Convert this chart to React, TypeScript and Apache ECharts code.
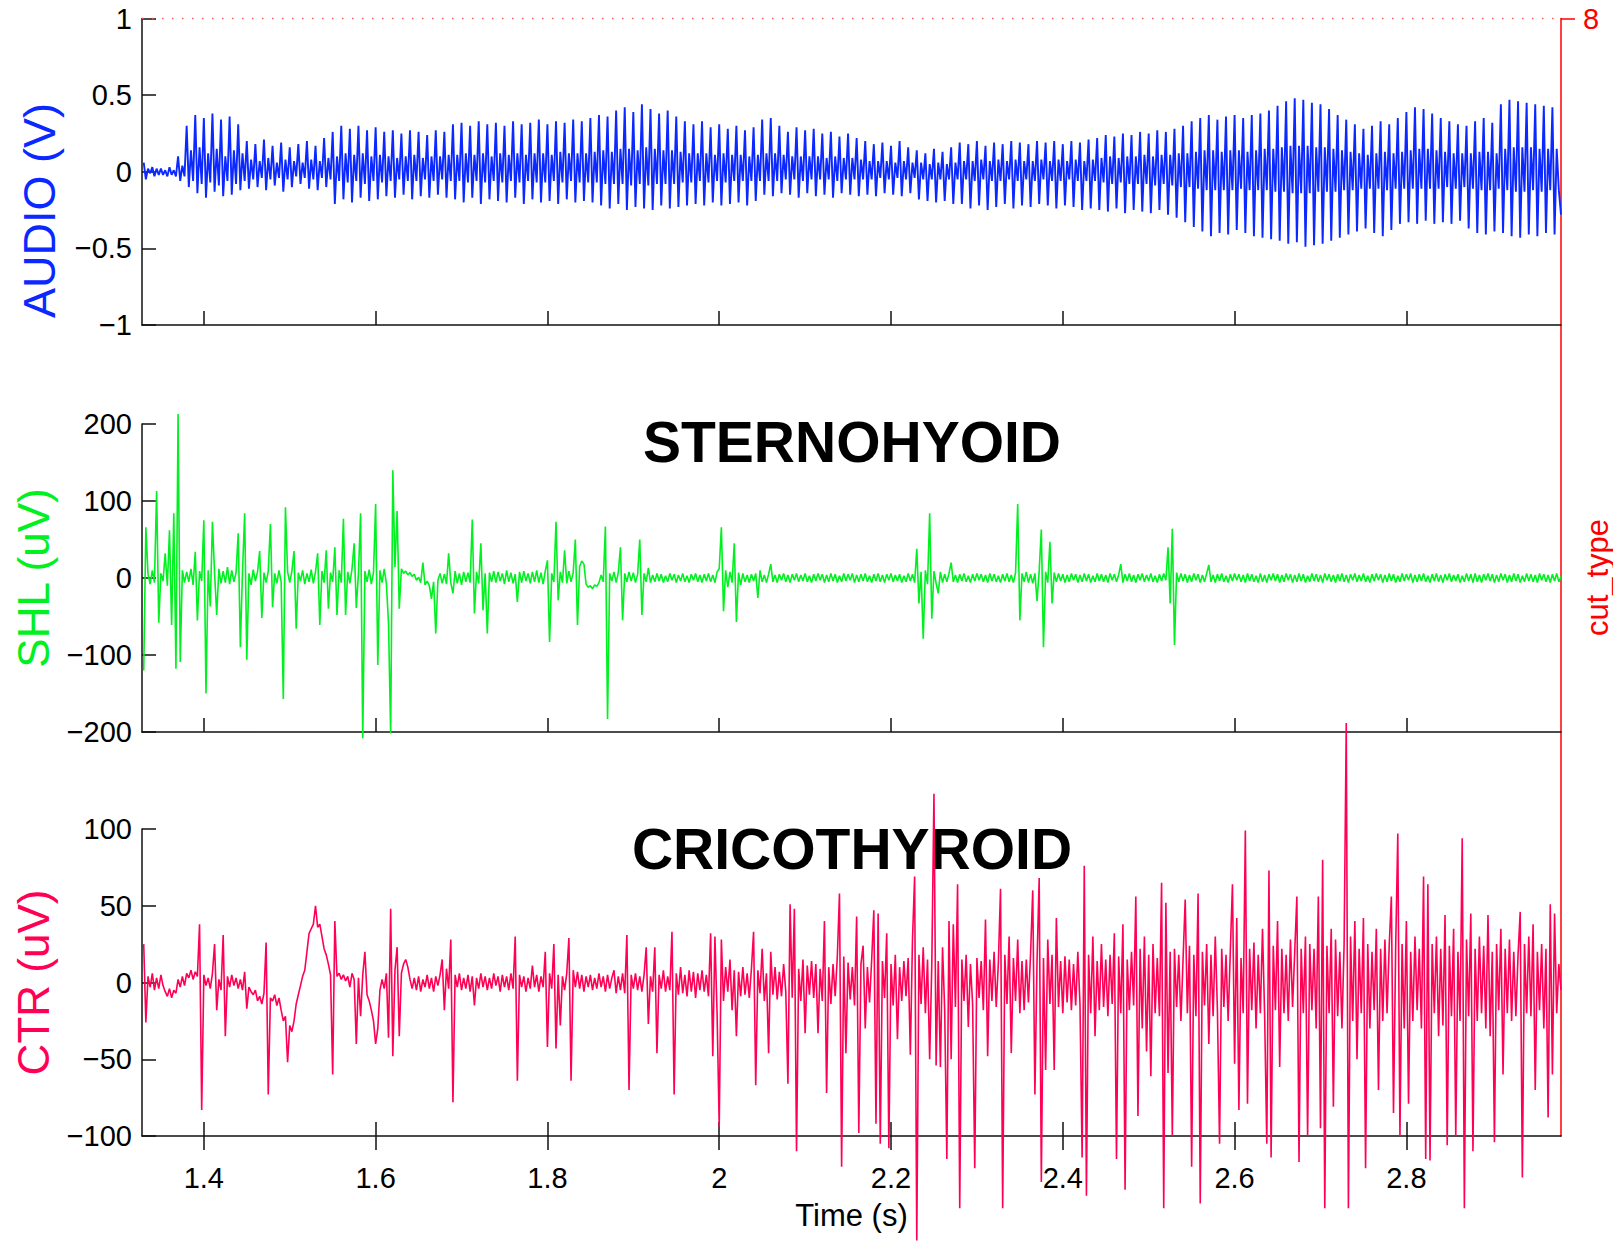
import React, { useEffect, useRef } from "react";
import * as echarts from "echarts";

// ---------- sampling grid (time axis, seconds) ----------
const T0 = 1.33;
const DT = 0.0025;
const X_MIN = 1.328;
const X_MAX = 2.98;
const timeTicks = [1.4, 1.6, 1.8, 2.0, 2.2, 2.4, 2.6, 2.8];

// ---------- AUDIO (V), one group of four per pitch cycle ----------
const audioV = [
  .06,-.05,.02,-.01, .03,-.03,.02,-.02, .02,-.02,.01,-.03, .03,-.02,.01,-.03,
  .10,-.06,.04,-.03, .30,-.10,.14,-.06, .37,-.14,.16,-.08, .35,-.17,.12,-.07,
  .38,-.13,.15,-.09, .34,-.16,.10,-.06, .36,-.15,.14,-.08, .31,-.12,.12,-.06,
  .20,-.11,.08,-.05, .18,-.10,.07,-.04, .21,-.12,.09,-.05, .17,-.09,.06,-.04,
  .19,-.13,.08,-.05, .16,-.10,.07,-.03, .18,-.08,.06,-.04, .20,-.11,.08,-.05,
  .17,-.12,.07,-.04, .22,-.10,.09,-.05, .26,-.21,.10,-.06, .30,-.18,.12,-.07,
  .28,-.20,.11,-.06, .30,-.17,.12,-.08, .27,-.19,.10,-.06, .29,-.18,.11,-.07,
  .26,-.16,.10,-.06, .27,-.17,.09,-.05, .25,-.15,.10,-.06, .27,-.18,.11,-.06,
  .26,-.16,.09,-.05, .24,-.17,.10,-.06, .27,-.15,.10,-.05, .26,-.17,.11,-.06,
  .31,-.18,.11,-.06, .32,-.20,.12,-.07, .30,-.17,.11,-.06, .33,-.21,.12,-.07,
  .31,-.18,.10,-.06, .32,-.19,.12,-.07, .30,-.20,.11,-.06, .33,-.17,.12,-.07,
  .31,-.21,.11,-.06, .32,-.18,.12,-.07, .34,-.20,.12,-.07, .31,-.19,.11,-.06,
  .33,-.21,.13,-.07, .32,-.18,.12,-.06, .34,-.20,.12,-.07, .33,-.19,.12,-.07,
  .35,-.20,.13,-.07, .37,-.22,.14,-.08, .36,-.24,.13,-.08, .40,-.21,.15,-.08,
  .42,-.25,.15,-.09, .39,-.23,.14,-.08, .44,-.24,.16,-.09, .41,-.25,.15,-.08,
  .38,-.22,.14,-.08, .40,-.24,.14,-.08, .36,-.23,.13,-.07, .33,-.22,.12,-.07,
  .31,-.21,.12,-.06, .33,-.22,.12,-.07, .29,-.20,.11,-.06, .31,-.22,.12,-.07,
  .28,-.21,.11,-.06, .30,-.20,.11,-.06, .27,-.22,.10,-.06, .29,-.19,.11,-.06,
  .34,-.15,.12,-.06, .35,-.16,.12,-.06, .30,-.14,.11,-.05, .26,-.15,.10,-.05,
  .29,-.17,.10,-.06, .27,-.14,.10,-.05, .28,-.16,.10,-.05, .25,-.15,.09,-.05,
  .26,-.17,.10,-.06, .23,-.14,.09,-.05, .25,-.15,.09,-.05, .22,-.16,.08,-.05,
  .20,-.15,.07,-.05, .18,-.16,.07,-.04, .19,-.14,.07,-.05, .17,-.15,.06,-.04,
  .20,-.16,.07,-.05, .16,-.14,.06,-.04, .14,-.18,.06,-.05, .12,-.19,.05,-.05,
  .15,-.20,.06,-.05, .13,-.19,.05,-.05, .16,-.21,.06,-.05, .19,-.21,.07,-.05,
  .18,-.24,.07,-.06, .20,-.22,.08,-.05, .17,-.25,.07,-.06, .19,-.23,.08,-.06,
  .18,-.21,.07,-.05, .20,-.24,.08,-.06, .19,-.22,.07,-.05, .18,-.23,.07,-.06,
  .20,-.21,.08,-.05, .19,-.22,.07,-.06, .20,-.24,.08,-.06, .18,-.22,.07,-.05,
  .20,-.23,.08,-.06, .19,-.25,.07,-.06, .21,-.24,.08,-.06, .22,-.25,.09,-.07,
  .24,-.26,.10,-.08, .23,-.24,.09,-.07, .25,-.27,.10,-.08, .24,-.25,.10,-.08,
  .26,-.26,.11,-.08, .25,-.27,.10,-.09, .27,-.25,.11,-.08, .26,-.28,.11,-.09,
  .28,-.30,.12,-.10, .30,-.33,.12,-.10, .33,-.36,.13,-.11, .35,-.39,.14,-.12,
  .37,-.42,.14,-.12, .34,-.40,.13,-.12, .36,-.41,.14,-.12, .37,-.38,.14,-.11,
  .35,-.40,.13,-.12, .37,-.42,.14,-.12, .38,-.43,.15,-.12, .40,-.44,.15,-.13,
  .43,-.45,.16,-.13, .46,-.47,.17,-.14, .48,-.46,.17,-.14, .47,-.49,.17,-.14,
  .45,-.48,.16,-.13, .44,-.47,.16,-.13, .41,-.45,.15,-.13, .37,-.43,.14,-.12,
  .34,-.41,.13,-.12, .31,-.39,.12,-.11, .28,-.37,.11,-.11, .30,-.40,.12,-.11,
  .33,-.42,.13,-.12, .31,-.38,.12,-.11, .35,-.34,.13,-.11, .39,-.33,.14,-.11,
  .42,-.34,.15,-.11, .41,-.32,.15,-.11, .38,-.34,.14,-.11, .35,-.33,.13,-.10,
  .33,-.34,.12,-.11, .31,-.32,.12,-.10, .30,-.37,.12,-.11, .33,-.40,.13,-.12,
  .35,-.41,.13,-.12, .32,-.39,.12,-.11, .44,-.40,.15,-.12, .47,-.42,.16,-.13,
  .46,-.43,.16,-.13, .45,-.41,.16,-.12, .44,-.42,.15,-.13, .43,-.40,.15,-.12,
  .42,-.41,.15,-.12, -.28,
];

// ---------- SHL (uV), 20 samples per row ----------
const shlUV = [
  -120,66,5,-8,10,-6,113,-58,6,-4,32,-10,62,-61,84,-118,213,-109,10,-6,
  8,-5,12,-9,34,-55,9,-4,75,-150,10,-37,73,6,-48,12,-7,9,-6,14,
  -8,10,-5,7,58,-90,8,84,-106,6,-9,11,-4,8,35,-52,7,-6,9,70,
  -38,6,-7,10,-5,-157,92,8,-6,9,35,-66,7,-4,10,-8,6,-5,11,-7,
  8,32,-61,9,-6,36,-40,7,-5,40,-48,10,-6,77,-48,8,-7,12,45,-39,
  6,84,-208,9,-5,11,-8,7,96,-113,10,-6,12,-7,-59,-202,140,14,87,-40,
  12,6,9,4,7,2,5,-3,1,-6,20,-9,-4,-10,-27,-5,-72,-3,6,-7,
  5,-8,32,-6,-20,9,-7,6,-9,8,-5,7,-6,76,-46,8,-7,45,-42,6,
  -72,7,-5,9,-6,8,-4,6,-8,10,-5,7,-7,5,-31,8,-6,9,-4,6,
  -7,8,-5,10,-6,7,-8,9,23,-83,6,-5,73,-29,8,-6,36,-7,9,-5,
  7,50,-61,15,22,18,-8,-12,-10,-14,-9,-11,-6,4,-5,67,-183,6,-4,8,
  -6,7,40,-55,6,-5,8,-4,7,-6,5,50,-48,6,-5,13,-6,4,-5,6,
  -4,5,-6,3,-5,6,-3,5,-6,4,-4,6,-5,3,-6,5,-3,6,-5,4,
  -6,5,-4,6,-5,4,-6,8,12,66,-43,10,-12,8,-6,45,-57,7,-9,6,
  -5,4,-6,5,-4,6,-26,10,-5,4,-6,5,18,-5,4,-6,5,-3,6,-5,
  4,-6,5,-3,6,-5,4,-4,6,-5,3,-6,5,-4,6,-3,5,-6,4,-5,
  6,-4,5,-6,3,-5,6,-4,5,-3,6,-6,4,-5,5,-4,6,-5,3,-6,
  5,-4,6,-5,4,-6,5,-3,6,-5,4,-4,5,-6,3,-5,6,-4,5,-6,
  38,-33,8,-79,10,-8,84,-53,9,-7,-20,8,-6,5,-5,6,20,-5,4,-6,
  5,-4,6,-5,3,-6,5,-4,6,-3,5,-5,4,-6,6,-4,5,-5,3,-6,
  5,-4,6,-5,4,-6,7,96,-55,6,-5,8,-6,5,-7,6,-30,9,63,-90,
  8,-6,47,-33,7,-5,6,-4,5,-6,4,-5,6,-3,5,-6,4,-5,6,-4,
  5,-6,3,-5,6,-4,5,-5,4,-6,6,-3,5,-5,4,18,-6,5,-4,6,
  -5,4,-6,5,-3,6,-5,4,-4,6,-5,3,-6,5,-4,6,-3,40,-33,64,
  -87,7,-5,6,-4,5,-6,4,-5,6,-3,5,-6,4,-5,6,17,-5,4,-6,
  5,-4,6,-5,3,-6,5,-4,6,-3,5,-5,4,-6,6,-4,5,-5,3,-6,
  6,-5,4,-6,5,-3,6,-4,5,-6,4,-5,6,-3,5,-6,4,-5,6,-4,
  5,-6,3,-5,6,-4,5,-5,4,-6,6,-3,5,-5,4,-6,5,-4,6,-5,
  4,-6,5,-3,6,-5,4,-4,6,-5,3,-6,5,-4,6,-3,5,-6,4,-5,
  6,-4,5,-6,3,-5,6,-4,5,-3,6,-6,4,-5,5,-4,6,-5,3,-6,
  5,-4,6,-5,4,-6,5,-3,6,-5,4,-4,5,-6,3,-5,6,-4,5,-6,
  6,-5,4,-6,5,-3,6,-4,5,-6,4,-5,6,-3,5,-6,4,-5,6,-4,
  5,-6,3,-5,6,-4,5,-5,4,-6,6,-3,5,-5,4,-6,5,-4,6,-5,
  2,
];

// ---------- CTR (uV), 20 samples per row ----------
const ctrUV = [
  25,-26,4,-3,6,-5,3,-4,5,-2,-6,-9,-4,-10,-5,-7,2,-3,4,-2,
  6,3,8,2,7,4,38,-83,5,-2,3,-4,6,25,-18,2,-5,31,-35,4,
  -3,5,-2,3,-4,2,-5,7,-17,-3,-6,-8,-5,-12,-9,-14,-7,26,-73,-10,
  -12,-8,-15,-10,-18,-25,-22,-52,-28,-32,-25,-14,-8,-2,4,8,20,32,35,38,
  50,36,38,30,22,18,12,5,-60,40,4,6,2,5,1,4,-3,6,2,-40,
  3,-22,5,20,-8,-12,-18,-25,-40,-30,-5,2,-4,6,-36,48,-48,8,23,-35,
  6,12,15,10,2,-4,3,-5,4,-6,2,-3,5,-4,3,-6,4,-2,5,15,
  -18,9,-4,28,-78,5,-3,6,-5,3,-4,5,-6,4,-15,3,-4,6,-3,4,
  -5,3,-4,6,-2,4,-6,5,-3,4,-5,6,-4,30,-64,5,-3,4,-6,3,
  -4,11,-3,5,-6,4,-3,20,-42,6,-4,25,-43,5,-28,4,-5,6,29,-64,
  8,-3,7,-4,5,-6,4,-3,5,-5,3,-4,6,-3,4,-6,5,-4,3,8,
  -7,4,-5,6,-7,31,-70,5,-4,6,-5,4,-6,5,23,-27,4,-6,23,-46,
  5,-4,8,-6,4,-5,33,-73,6,-8,10,-7,5,-9,8,-6,7,-10,6,-5,
  8,-6,5,-9,32,-48,30,-20,-94,28,-12,10,-6,15,-18,8,-35,7,-9,10,
  -8,6,-10,9,33,-67,8,-7,22,-12,6,-46,20,-8,10,-11,7,-9,12,-6,
  -66,51,-10,48,-110,9,-12,15,-33,11,-8,14,-10,12,-33,9,-12,40,-72,10,
  -14,12,-9,17,58,-120,17,-46,13,-11,10,-15,43,-98,12,24,-30,10,-13,15,
  47,-92,45,-105,14,-10,32,-108,12,-15,18,-37,10,-12,14,-9,16,-47,28,69,
  -168,18,-14,23,-20,15,-50,12,123,-54,14,-55,23,-18,-115,40,-50,38,-16,64,
  -147,15,-12,18,-29,12,-14,-121,16,-10,14,-18,41,-48,15,-12,20,-16,13,61,
  -147,18,-14,30,-46,16,-12,28,-20,14,-18,15,-13,19,60,-73,14,68,-130,16,
  -57,28,-14,18,-57,42,-16,14,-20,17,-13,15,-18,12,-15,20,-14,-114,76,-139,
  18,-20,30,-35,14,-18,25,-16,15,-22,18,-14,32,-115,17,-20,38,-135,15,-18,
  20,-15,56,-87,22,-30,30,-45,18,-61,25,-20,16,-22,65,-147,52,-59,20,-100,
  22,-16,18,-25,15,54,-20,24,-120,18,-22,58,-144,20,-15,25,-40,18,-22,30,
  -18,-105,22,-16,18,-25,20,64,-53,42,-83,16,-20,99,-79,22,-18,26,-30,18,
  -20,35,-22,-105,73,-114,24,-18,40,-55,22,-20,18,-25,28,-16,20,56,-117,22,
  -20,30,-100,25,-18,22,-30,56,-95,80,-147,24,-20,35,-81,28,-22,20,-30,25,
  169,-147,30,-25,40,-50,22,-20,42,-121,25,-30,20,-18,35,-70,22,-25,28,-20,
  24,56,-85,22,97,-100,25,-30,40,-79,20,-25,30,-18,22,-30,69,-115,64,-116,
  25,-20,30,-35,22,-28,44,-106,24,-22,35,-100,20,-25,94,-147,28,-22,45,-110,
  22,-25,30,-20,24,-30,44,-35,20,-104,25,-18,35,-60,22,-20,28,-25,20,-22,
  18,46,-127,25,-20,30,-22,38,-70,20,-18,25,-30,22,-88,51,-60,45,-20,12,
  -5,
];

// ---------- cut_type (right axis) ----------
const cutTypeTimes = [1.328, 2.98];
const cutTypeValues = [8, 8];

const panelTitles = ["STERNOHYOID", "CRICOTHYROID"];
const axisNames = ["AUDIO (V)", "SHL (uV)", "CTR (uV)", "cut_type", "Time (s)"];

const FONT = "Liberation Sans";
const BLUE = "#0a28ff";
const GREEN = "#00f020";
const PINK = "#ff0055";
const RED = "#ff0000";
const AX = "#111111";

const toXY = (vals: number[]) => vals.map((v, i) => [T0 + i * DT, v]);
const minusFmt = (v: number) => (v < 0 ? "\u2212" + Math.abs(v) : String(v));
const timeFmt = (v: number) => String(+Number(v).toFixed(1));

export default function App() {
  const ref = useRef<HTMLDivElement>(null);

  useEffect(() => {
    if (!ref.current) return;
    const chart = echarts.init(ref.current, undefined, { renderer: "svg" });

    const L = 142;
    const W = 1419;
    const grids = [
      { left: L, top: 18.5, width: W, height: 306.5 },
      { left: L, top: 424, width: W, height: 308 },
      { left: L, top: 829, width: W, height: 307 },
      { left: L, top: 18.5, width: W, height: 1117.5 },
    ].map((g) => ({ ...g, show: false, outerBoundsMode: "none" }));

    const axLine = { color: AX, width: 1.5 };

    const mkX = (gi: number, opts: any) => ({
      type: "value",
      gridIndex: gi,
      min: X_MIN,
      max: X_MAX,
      axisLine: { show: opts.line, onZero: false, lineStyle: axLine },
      axisTick: {
        show: true,
        inside: opts.inside,
        length: 14,
        customValues: timeTicks,
        lineStyle: axLine,
      },
      axisLabel: {
        show: opts.label,
        customValues: timeTicks,
        formatter: timeFmt,
        fontSize: 29,
        color: "#000",
        fontFamily: FONT,
        margin: 27,
      },
      splitLine: { show: false },
      name: opts.name || "",
      nameLocation: "middle",
      nameGap: 64,
      nameTextStyle: { fontSize: 31, color: "#000", fontFamily: FONT },
    });

    const mkY = (gi: number, min: number, max: number, interval: number, name: string, color: string) => ({
      type: "value",
      gridIndex: gi,
      position: "left",
      min,
      max,
      interval,
      name,
      nameLocation: "middle",
      nameRotate: 90,
      nameGap: 81,
      nameTextStyle: { color, fontSize: 44, fontFamily: FONT },
      axisLine: { show: true, onZero: false, lineStyle: axLine },
      axisTick: { show: true, inside: true, length: 14, lineStyle: axLine },
      axisLabel: { formatter: minusFmt, fontSize: 29, color: "#000", fontFamily: FONT, margin: 10 },
      splitLine: { show: false },
    });

    const lineSeries = (xi: number, data: number[][], color: string, width: number) => ({
      type: "line",
      xAxisIndex: xi,
      yAxisIndex: xi,
      data,
      symbol: "none",
      showSymbol: false,
      clip: false,
      silent: true,
      z: 3,
      lineStyle: { color, width },
    });

    const rotText = (text: string, x: number, y: number, size: number, color: string) => ({
      type: "text",
      x,
      y,
      rotation: Math.PI / 2,
      z: 5,
      style: {
        text,
        font: `${size}px "${FONT}"`,
        fill: color,
        textAlign: "center",
        textVerticalAlign: "middle",
        align: "center",
        verticalAlign: "middle",
      },
    });

    const titleText = (text: string, y: number) => ({
      type: "text",
      x: 852,
      y,
      z: 1,
      style: {
        text,
        font: `bold 57px "${FONT}"`,
        fill: "#000",
        textAlign: "center",
        textVerticalAlign: "middle",
        align: "center",
        verticalAlign: "middle",
      },
    });

    chart.setOption({
      animation: false,
      backgroundColor: "#ffffff",
      textStyle: { fontFamily: FONT },
      grid: grids,
      xAxis: [
        mkX(0, { line: true, inside: true, label: false }),
        mkX(1, { line: true, inside: true, label: false }),
        mkX(2, { line: true, inside: true, label: true, name: axisNames[4] }),
        mkX(3, { line: false, inside: false, label: false }),
      ],
      yAxis: [
        mkY(0, -1, 1, 0.5, "", BLUE),
        mkY(1, -200, 200, 100, axisNames[1], GREEN),
        mkY(2, -100, 100, 50, axisNames[2], PINK),
        {
          type: "value",
          gridIndex: 3,
          position: "right",
          min: 0,
          max: 8,
          axisLine: { show: true, onZero: false, lineStyle: { color: RED, width: 1.5 } },
          axisTick: { show: true, inside: false, length: 14, customValues: [8], lineStyle: { color: RED, width: 1.5 } },
          axisLabel: { show: true, customValues: [8], color: RED, fontSize: 29, fontFamily: FONT, margin: 22 },
          splitLine: { show: false },
        },
      ],
      series: [
        lineSeries(0, toXY(audioV), BLUE, 1.9),
        lineSeries(1, toXY(shlUV), GREEN, 1.6),
        lineSeries(2, toXY(ctrUV), PINK, 1.6),
        {
          type: "line",
          xAxisIndex: 3,
          yAxisIndex: 3,
          data: cutTypeTimes.map((t, i) => [t, cutTypeValues[i]]),
          symbol: "none",
          clip: false,
          silent: true,
          z: 4,
          lineStyle: { color: "#ff5a5a", width: 1.5, type: [1.5, 8.5] },
        },
      ],
      graphic: [
        titleText(panelTitles[0], 442),
        titleText(panelTitles[1], 849),
        rotText(axisNames[0], 39.5, 210.5, 45, BLUE),
        rotText(axisNames[3], 1597, 577.5, 31, RED),
      ],
    });

    return () => chart.dispose();
  }, []);

  return (
    <div
      ref={ref}
      style={{ position: "absolute", left: 0, top: 0, width: 1613, height: 1241, background: "#fff" }}
    />
  );
}
